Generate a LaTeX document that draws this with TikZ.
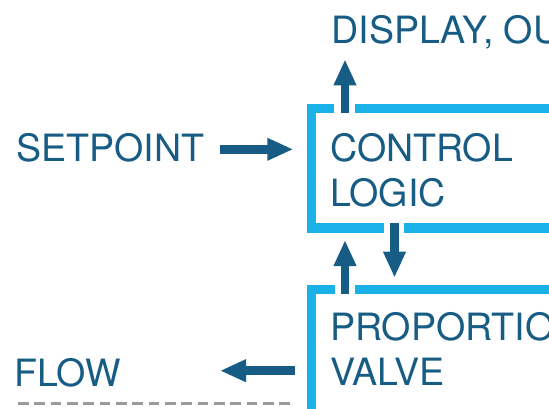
\documentclass[tikz,border=0pt]{standalone}
\usepackage{fontspec}
\setmainfont{TeX Gyre Heros}
\usetikzlibrary{arrows.meta}
\definecolor{dkblue}{HTML}{175C84}
\definecolor{cyanbox}{HTML}{1AB1E8}
\definecolor{dashgray}{HTML}{9B9B9B}
\tikzset{
  lbl/.style={inner sep=0pt, outer sep=0pt, anchor=base west, text=dkblue,
              font=\fontsize{37.6}{45}\selectfont, align=left},
  flowarrow/.style={draw=dkblue, line width=8.5pt, -{Triangle[length=26pt,width=21pt]}},
  boxedge/.style={draw=cyanbox, line width=9.5pt, line join=miter},
  dashline/.style={draw=dashgray, line width=3pt, dash pattern=on 10.5pt off 5.84pt}
}
\begin{document}
\begin{tikzpicture}[x=1pt,y=-1pt]
\useasboundingbox (0,0) rectangle (549,408);
\clip (0,0) rectangle (549,408);
% boxes (open to the right, with gaps for arrows)
\path[boxedge] (600,108.7) -- (355,108.7)
               (334,108.7) -- (311.7,108.7) -- (311.7,228) -- (384,228)
               (404,228) -- (600,228);
\path[boxedge] (600,289.5) -- (355,289.5)
               (335,289.5) -- (311.5,289.5) -- (311.5,460);
% texts (base anchor of a multi-line node = baseline of its last line)
\node[lbl] (display) at (331.6,43.3) {DISPLAY, OUTPUT};
\node[lbl] (setpoint) at (16.2,161.5) {SETPOINT};
\node[lbl] (control) at (330.2,206.5) {CONTROL\\LOGIC};
\node[lbl] (valve) at (330.2,385.5) {PROPORTIONAL\\VALVE};
\node[lbl] (flow) at (14.4,386.7) {FLOW};
% connector end points
\coordinate (spOut) at (220,149.3);
\coordinate (ctlIn) at (293.3,149.3);
\coordinate (ctlTop) at (345,113);
\coordinate (dispIn) at (345,59.3);
\coordinate (ctlBot) at (394.5,223);
\coordinate (valIn) at (394.5,277.7);
\coordinate (valTop) at (345,294);
\coordinate (ctlFb) at (345,240);
\coordinate (valOut) at (295,370.7);
\coordinate (flowIn) at (220,370.7);
\coordinate (dashA) at (18,403.3);
\coordinate (dashB) at (290.5,403.3);
% arrows
\draw[flowarrow] (spOut) -- (ctlIn);
\draw[flowarrow] (ctlTop) -- (dispIn);
\draw[flowarrow] (ctlBot) -- (valIn);
\draw[flowarrow] (valTop) -- (ctlFb);
\draw[flowarrow] (valOut) -- (flowIn);
\draw[dashline] (dashA) -- (dashB);
\end{tikzpicture}
\end{document}
